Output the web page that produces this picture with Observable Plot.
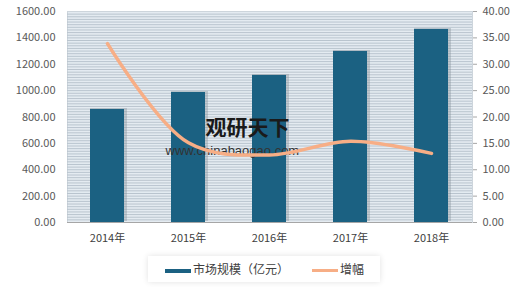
<!DOCTYPE html>
<html><head><meta charset="utf-8">
<script src="https://cdn.jsdelivr.net/npm/d3@7"></script>
<script src="https://cdn.jsdelivr.net/npm/@observablehq/plot@0.6"></script>
<style>
body{margin:0;background:#fff;font-family:"Noto Sans CJK SC","Noto Sans",sans-serif;}
#legend{position:relative;height:35px;}
#legend .box{position:absolute;left:148px;top:4px;width:232px;height:26px;background:#fff;box-shadow:0 0 6px rgba(0,0,0,0.12);}
.item{position:absolute;top:9px;font-size:12px;color:#404040;line-height:16px;}
.sw{display:inline-block;width:26px;height:4px;vertical-align:middle;margin-right:2px;}
</style></head>
<body><div id="chart"></div><div id="legend"><div class="box"></div>
<div class="item" style="left:165px"><span class="sw" style="background:#1b6182"></span>市场规模（亿元）</div>
<div class="item" style="left:312px"><span class="sw" style="background:#f7ae86;height:3px"></span>增幅</div></div>
<script>
const years = ["2014年","2015年","2016年","2017年","2018年"];
const marketSize = [857, 986, 1115, 1297, 1464];
const growth = [33.9, 15.1, 12.8, 15.4, 13.1];
const leftTicks = [0,200,400,600,800,1000,1200,1400,1600];
const rightTicks = [0,5,10,15,20,25,30,35,40];

const data = years.map((y,i)=>({year:y, size:marketSize[i], g:growth[i]}));
const ratio = 1600/40;
const stripes = d3.range(20,1600,20);

const chart = Plot.plot({
  width:520, height:252,
  marginLeft:67, marginRight:48, marginTop:11, marginBottom:30,
  style:{fontFamily:'"Noto Sans CJK SC","Noto Sans",sans-serif', fontSize:"11px", color:"#595959", background:"#fff"},
  x:{domain:years, paddingInner:0.58, paddingOuter:0.29, label:null},
  y:{domain:[0,1600], label:null},
  marks:[
    Plot.frame({fill:"#e4ebf1", stroke:"#cdd5dc"}),
    Plot.ruleY(stripes, {stroke:"#b9c4ce", strokeWidth:1}),
    Plot.axisY(leftTicks, {anchor:"left", tickSize:0, tickPadding:12, tickFormat:d=>d.toFixed(2), fontSize:11, fill:"#595959", label:null}),
    Plot.axisY(rightTicks.map(d=>d*ratio), {anchor:"right", tickSize:4, tickPadding:6, stroke:"#a6a6a6", tickFormat:d=>(d/ratio).toFixed(2), fontSize:11, fill:"#595959", label:null}),
    Plot.axisX({tickSize:0, tickPadding:12, fontSize:11, fill:"#404040", label:null}),
    Plot.barY(data, {x:"year", y:"size", fill:"#7f8a92", dx:1.5, dy:-1, insetLeft:-1.5, insetRight:-1.5, opacity:0.35}),
    Plot.barY(data, {x:"year", y:"size", fill:"#1b6182"}),
    Plot.ruleY([0], {stroke:"#a6a6a6"}),
    Plot.text(["观研天下"], {x:()=>"2015年", y:()=>713, dx:17, text:d=>d, fontSize:21, fontWeight:"bold", fill:"#1a1a1a", textAnchor:"start"}),
    Plot.text(["www.chinabaogao.com"], {x:()=>"2015年", y:()=>546, dx:-23, text:d=>d, fontSize:13, fill:"#333", textAnchor:"start", fontFamily:"Liberation Sans, sans-serif"}),
    Plot.lineY(data, {x:"year", y:d=>d.g*ratio, stroke:"#f7ae86", strokeWidth:3.5, curve:"catmull-rom"})
  ]
});
document.getElementById("chart").appendChild(chart);
</script></body></html>
